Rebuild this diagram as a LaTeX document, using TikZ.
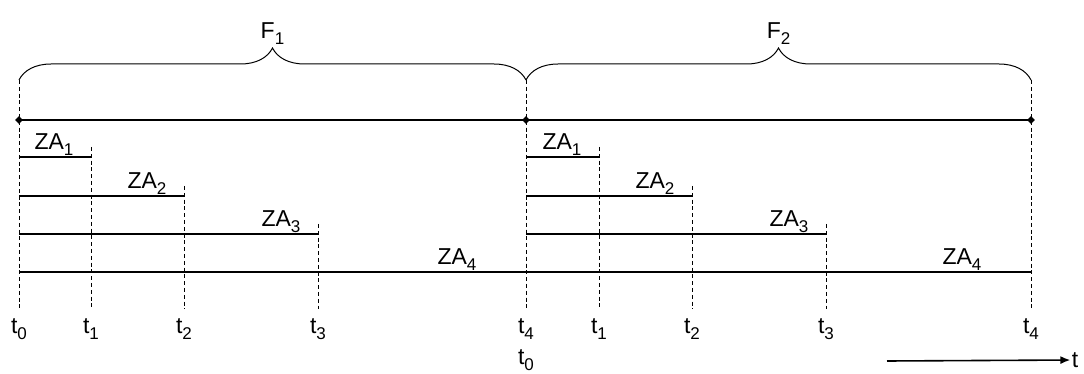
\documentclass[tikz,border=0pt]{standalone}
\usepackage{fontspec}
\setmainfont{Liberation Sans}
\usetikzlibrary{positioning,shapes.geometric,decorations.pathreplacing,arrows.meta}
\newcommand{\idx}[1]{\raisebox{-3pt}{\fontsize{8.5}{9}\selectfont #1}}

\begin{document}
\begin{tikzpicture}[x=0.5pt, y=-0.5pt,
    lbl/.style={font=\fontsize{11.5}{13}\selectfont, inner sep=0.5pt},
    grid/.style={line width=0.5pt, dash pattern=on 2pt off 1.4pt},
    interval/.style={line width=0.6pt},
    frameline/.style={line width=0.8pt},
    dot/.style={diamond, fill, inner sep=0pt, minimum size=4pt},
    framebrace/.style={line width=0.5pt, decorate, decoration={brace, amplitude=16pt}}]
  \useasboundingbox (0,0) rectangle (1084,374);

  % time points of both frames (foot of the dashed lines)
  \foreach \k/\xa/\xb in {0/19/526, 1/91/599, 2/184/692, 3/318/826, 4/526/1031} {
    \coordinate (f1-\k) at (\xa,309);
    \coordinate (f2-\k) at (\xb,309);
  }

  % frame line
  \node[dot] (p0) at (f1-0 |- 0,120) {};
  \node[dot] (p1) at (f1-4 |- 0,120) {};
  \node[dot] (p2) at (f2-4 |- 0,120) {};
  \draw[frameline] (p0.center) -- (p1.center) -- (p2.center);

  \foreach \f in {1,2} {
    % frame brace
    \draw[framebrace] (f\f-0 |- 0,80) -- (f\f-4 |- 0,80)
      node[midway, above=17pt, lbl] (F\f) {F\idx{\f}};
    \draw[grid] (f\f-0 |- 0,80) -- (f\f-0);
    \draw[grid] (f\f-4 |- 0,80) -- (f\f-4);
    % intervals
    \foreach \k/\y/\g in {1/157/8, 2/196/8, 3/234/8, 4/272/24} {
      \draw[interval] (f\f-0 |- 0,\y) -- (f\f-\k |- 0,\y)
        node[lbl, above left=0pt and \g pt] (za\f\k) {ZA\idx{\k}};
    }
    \foreach \k/\y in {1/147, 2/186, 3/224} {
      \draw[grid] (f\f-\k |- 0,\y) -- (f\f-\k);
    }
  }

  % time labels
  \foreach \k in {0,...,4} {
    \node[lbl, below=4pt of f1-\k] (tl1\k) {t\idx{\k}};
  }
  \foreach \k in {1,...,4} {
    \node[lbl, below=4pt of f2-\k] (tl2\k) {t\idx{\k}};
  }
  \node[lbl, below=4pt of tl14] (tl20) {t\idx{0}};

  % time axis
  \coordinate (tstart) at (887,361);
  \node[lbl] (tlab) at (1075,360) {t};
  \draw[line width=0.8pt, -{Latex[length=5pt, width=4pt]}] (tstart) -- (tlab);
\end{tikzpicture}
\end{document}
